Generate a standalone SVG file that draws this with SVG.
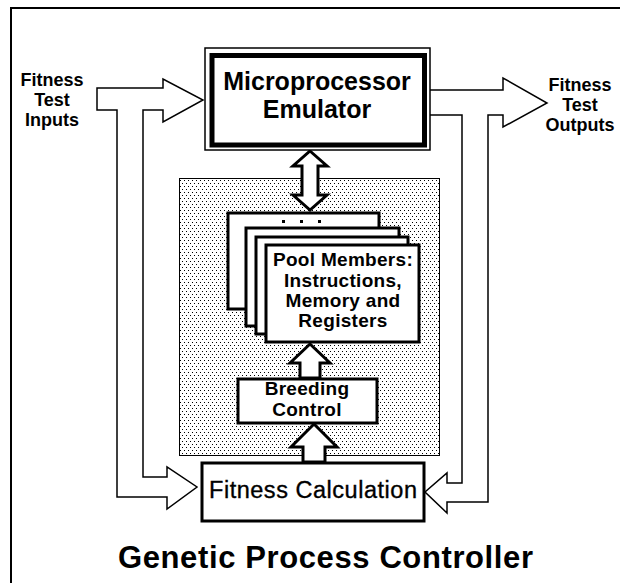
<svg xmlns="http://www.w3.org/2000/svg" width="620" height="583" viewBox="0 0 620 583">
<style>
.box{fill:#fff;stroke:#000;stroke-width:3}
.thin{fill:#fff;stroke:#000;stroke-width:1.5;stroke-linejoin:miter}
.conn{fill:#fff;stroke:#000;stroke-width:1.5;stroke-linejoin:miter}
.blk{fill:#fff;stroke:#000;stroke-width:3;stroke-linejoin:miter}
text{font-family:"Liberation Sans",Arial,sans-serif;fill:#000;text-anchor:middle}
.lbl{font-size:18px;font-weight:bold}
.big{font-size:25px;font-weight:bold}
.mid{font-size:19px;font-weight:bold;letter-spacing:0.3px}
.calc{font-size:23.5px;stroke:#000;stroke-width:0.35px}
.title{font-size:31px;font-weight:bold}
</style>
<defs>
<pattern id="dots" width="4" height="6" patternUnits="userSpaceOnUse">
<rect width="4" height="6" fill="#fff"/>
<rect x="0" y="0" width="1" height="1" fill="#000"/>
<rect x="2" y="3" width="1" height="1" fill="#000"/>
</pattern>
</defs>
<rect width="620" height="583" fill="#fff"/>
<path d="M11,583 V8 H620" fill="none" stroke="#000" stroke-width="2"/>

<g id="pool-area">
<rect x="179.5" y="178.5" width="260" height="277" fill="url(#dots)" stroke="#000" stroke-width="1"/>
</g>

<g id="connectors">
<polygon class="conn" points="97,88 163,88 163,79 203,100 163,122 163,110 143,110 143,477 167,477 167,467 197,487 167,509 167,497 117,497 117,110 97,110"/>
<polyline class="conn" points="430,90 503,90 503,78 547,103 503,127 503,115 488,115 488,502 447,502 447,513 425,492 447,473 447,483 462,483 462,115 430,115"/>
<polygon class="blk" points="310,151 327,166 318,166 318,195 327,195 310,210 293,195 302,195 302,166 293,166"/>
<polygon class="blk" points="310,344 330,363 320,363 320,378 300,378 300,363 290,363"/>
<polygon class="blk" points="314,424 337,447 325,447 325,462 303,462 303,447 291,447"/>
</g>

<g id="emulator">
<rect x="205" y="48" width="225" height="102" class="thin"/>
<rect x="212" y="55.5" width="212.5" height="89.5" fill="#fff" stroke="#000" stroke-width="5"/>
<text class="big" x="317" y="90">Microprocessor</text>
<text class="big" x="317" y="118">Emulator</text>
</g>

<g id="pool-members">
<rect class="box" x="228" y="213" width="151" height="96"/>
<rect x="282" y="220" width="3" height="3" fill="#000"/>
<rect x="300" y="220" width="3" height="3" fill="#000"/>
<rect x="318" y="220" width="3" height="3" fill="#000"/>
<rect class="box" x="246" y="228" width="153" height="98"/>
<rect class="box" x="256" y="237" width="152" height="97"/>
<rect class="box" x="266" y="245" width="153" height="97"/>
<text class="mid" x="343" y="266">Pool Members:</text>
<text class="mid" x="343" y="287">Instructions,</text>
<text class="mid" x="343" y="307">Memory and</text>
<text class="mid" x="343" y="327">Registers</text>
</g>

<g id="breeding-control">
<rect class="box" x="238" y="379" width="139" height="44"/>
<text class="mid" x="307" y="395">Breeding</text>
<text class="mid" x="307" y="416">Control</text>
</g>

<g id="fitness-calculation">
<rect class="box" x="202" y="463" width="222" height="58"/>
<text class="calc" x="313" y="498" textLength="208" lengthAdjust="spacing">Fitness Calculation</text>
</g>

<g id="inputs-label">
<text class="lbl" x="52" y="86">Fitness</text>
<text class="lbl" x="52" y="106">Test</text>
<text class="lbl" x="52" y="126">Inputs</text>
</g>

<g id="outputs-label">
<text class="lbl" x="580" y="91">Fitness</text>
<text class="lbl" x="580" y="111">Test</text>
<text class="lbl" x="580" y="131">Outputs</text>
</g>

<g id="title">
<text class="title" x="325.5" y="568" textLength="415" lengthAdjust="spacing">Genetic Process Controller</text>
</g>
</svg>
